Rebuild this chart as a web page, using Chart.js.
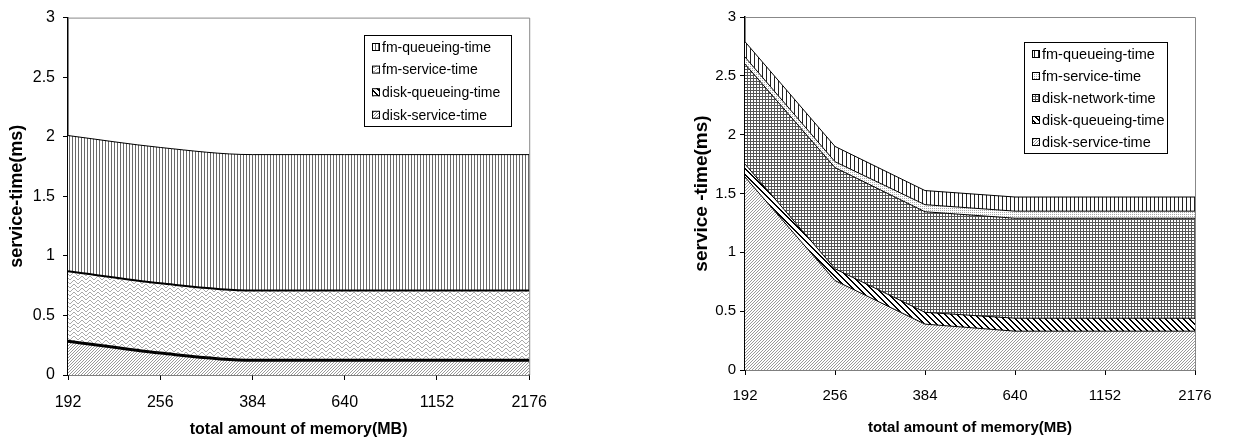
<!DOCTYPE html>
<html>
<head>
<meta charset="utf-8">
<script src="https://cdn.jsdelivr.net/npm/chart.js@4"></script>
<style>
body { margin: 0; background: #fff; width: 1234px; height: 439px; overflow: hidden; position: relative; }
#left { position: absolute; left: 0; top: 0; }
#right { position: absolute; left: 690px; top: 0; }
</style>
</head>
<body>
<canvas id="left" width="560" height="439"></canvas>
<canvas id="right" width="544" height="439"></canvas>
<script>
const memory = ['192', '256', '384', '640', '1152', '2176'];
const yTicks = [0, 0.5, 1, 1.5, 2, 2.5, 3];

// left chart (no network time), values per layer
const leftDiskService = [0.28, 0.18, 0.12, 0.12, 0.12, 0.12];
const leftDiskQueueing = [0.01, 0.01, 0.01, 0.01, 0.01, 0.01];
const leftFmService = [0.58, 0.58, 0.58, 0.58, 0.58, 0.58];
const leftFmQueueing = [1.14, 1.14, 1.14, 1.14, 1.14, 1.14];

// right chart
const rightDiskService = [1.64, 0.76, 0.39, 0.33, 0.33, 0.33];
const rightDiskQueueing = [0.11, 0.10, 0.10, 0.11, 0.11, 0.11];
const rightDiskNetwork = [0.85, 0.86, 0.855, 0.85, 0.85, 0.85];
const rightFmService = [0.06, 0.05, 0.06, 0.06, 0.06, 0.06];
const rightFmQueueing = [0.13, 0.13, 0.12, 0.12, 0.12, 0.12];

const FONT = "'Liberation Sans', Arial, sans-serif";

function makePattern(w, h, draw) {
    const c = document.createElement('canvas');
    c.width = w;
    c.height = h;
    const g = c.getContext('2d');
    g.fillStyle = '#fff';
    g.fillRect(0, 0, w, h);
    draw(g);
    return g.createPattern(c, 'repeat');
}

const vlinesDense = makePattern(3, 1, g => { g.fillStyle = '#6a6a6a'; g.fillRect(0, 0, 1, 1); });
const vlinesWide = makePattern(4, 1, g => { g.fillStyle = '#222'; g.fillRect(0, 0, 1, 1); });
const fineDiag = makePattern(3, 3, g => {
    g.fillStyle = '#999';
    for (let i = 0; i < 3; i++) g.fillRect(2 - i, i, 1, 1);
});
const thickDiag = makePattern(6, 6, g => {
    g.fillStyle = '#000';
    for (let i = 0; i < 6; i++) {
        for (let k = 0; k < 2; k++) g.fillRect((i + k) % 6, i, 1, 1);
    }
});
const wavy = makePattern(8, 4, g => {
    g.fillStyle = '#aaa';
    [1, 0, 0, 1, 2, 3, 3, 2].forEach((y, x) => g.fillRect(x, y, 1, 1));
});
const grid = makePattern(3, 3, g => {
    g.fillStyle = '#555';
    g.fillRect(0, 0, 3, 1);
    g.fillRect(0, 0, 1, 3);
});
const dotted = makePattern(2, 2, g => { g.fillStyle = '#aaa'; g.fillRect(0, 0, 1, 1); });

function layer(label, data, pattern, first, width) {
    return {
        label: label,
        data: data,
        backgroundColor: pattern,
        borderColor: '#000',
        borderWidth: width || 1,
        fill: first ? 'origin' : '-1',
        pointRadius: 0
    };
}

const boxLegend = {
    id: 'boxLegend',
    afterDatasetsDraw(chart, args, opts) {
        const ctx = chart.ctx;
        const a = chart.chartArea;
        ctx.save();
        // frame on top and right of the plot area
        ctx.strokeStyle = '#888';
        ctx.lineWidth = 1;
        ctx.beginPath();
        ctx.moveTo(a.left, a.top + 0.5);
        ctx.lineTo(a.right + 0.5, a.top + 0.5);
        ctx.lineTo(a.right + 0.5, a.bottom);
        ctx.stroke();

        ctx.fillStyle = '#fff';
        ctx.fillRect(opts.x, opts.y, opts.w, opts.h);
        ctx.strokeStyle = '#000';
        ctx.strokeRect(opts.x + 0.5, opts.y + 0.5, opts.w, opts.h);
        ctx.font = opts.font + 'px ' + FONT;
        ctx.textBaseline = 'middle';
        const items = chart.data.datasets.slice().reverse();
        items.forEach((ds, i) => {
            const cy = opts.y0 + i * opts.step;
            ctx.fillStyle = ds.backgroundColor;
            ctx.fillRect(opts.sx, cy - 4, 8, 8);
            ctx.strokeStyle = '#000';
            ctx.strokeRect(opts.sx + 0.5, cy - 3.5, 7, 7);
            ctx.fillStyle = '#000';
            ctx.fillText(ds.label, opts.sx + 10, cy + 1);
        });
        ctx.restore();
    }
};

function makeChart(id, datasets, opt) {
    return new Chart(document.getElementById(id), {
        type: 'line',
        data: { labels: memory, datasets: datasets },
        options: {
            responsive: false,
            animation: false,
            layout: { padding: { top: opt.top, right: opt.right, left: 0, bottom: 0 } },
            elements: { line: { tension: opt.tension, cubicInterpolationMode: opt.tension ? 'monotone' : 'default' } },
            plugins: {
                legend: { display: false },
                tooltip: { enabled: false },
                boxLegend: opt.legend
            },
            scales: {
                x: {
                    offset: false,
                    grid: { drawOnChartArea: false, color: '#000', tickLength: 5 },
                    border: { color: '#000', width: 1.5 },
                    ticks: { color: '#000', font: { family: FONT, size: opt.tickSize }, padding: opt.xpad, maxRotation: 0 },
                    title: {
                        display: true, text: 'total amount of memory(MB)', color: '#000',
                        font: { family: FONT, size: opt.xtitleSize, weight: 'bold' }, padding: { top: 0, bottom: opt.xtitlePad }
                    },
                    afterFit: s => { s.height = opt.xh; }
                },
                y: {
                    stacked: true,
                    min: 0,
                    max: 3,
                    afterBuildTicks: s => { s.ticks = yTicks.map(v => ({ value: v })); },
                    grid: { drawOnChartArea: false, color: '#000', tickLength: 5 },
                    border: { color: '#000', width: 1.5 },
                    ticks: { color: '#000', font: { family: FONT, size: opt.tickSize }, padding: opt.ypad, callback: v => String(v) },
                    title: {
                        display: true, text: opt.ytitle, color: '#000',
                        font: { family: FONT, size: opt.ytitleSize, weight: 'bold' }, padding: { top: opt.ytitlePad, bottom: 0 }
                    },
                    afterFit: s => { s.width = opt.yw; }
                }
            }
        },
        plugins: [boxLegend]
    });
}

makeChart('left', [
    layer('disk-service-time', leftDiskService, fineDiag, true, 2),
    layer('disk-queueing-time', leftDiskQueueing, thickDiag, false, 1.5),
    layer('fm-service-time', leftFmService, wavy, false, 2),
    layer('fm-queueing-time', leftFmQueueing, vlinesDense, false)
], {
    top: 17, right: 18, tension: 0.4, xh: 64, yw: 68, xpad: 13, ypad: 8, tickSize: 16,
    xtitleSize: 16, xtitlePad: 0, ytitleSize: 18, ytitlePad: 6, ytitle: 'service-time(ms)',
    legend: { x: 364, y: 35, w: 147, h: 91, sx: 372, y0: 47, step: 22.6, font: 14 }
});

makeChart('right', [
    layer('disk-service-time', rightDiskService, fineDiag, true),
    layer('disk-queueing-time', rightDiskQueueing, thickDiag, false),
    layer('disk-network-time', rightDiskNetwork, grid, false),
    layer('fm-service-time', rightFmService, dotted, false),
    layer('fm-queueing-time', rightFmQueueing, vlinesWide, false)
], {
    top: 17, right: 39, tension: 0, xh: 69, yw: 55, xpad: 12, ypad: 4, tickSize: 15,
    xtitleSize: 15, xtitlePad: 2, ytitleSize: 19, ytitlePad: 0, ytitle: 'service -time(ms)',
    legend: { x: 334, y: 42, w: 143, h: 111, sx: 342, y0: 54, step: 22, font: 14.5 }
});
</script>
</body>
</html>
